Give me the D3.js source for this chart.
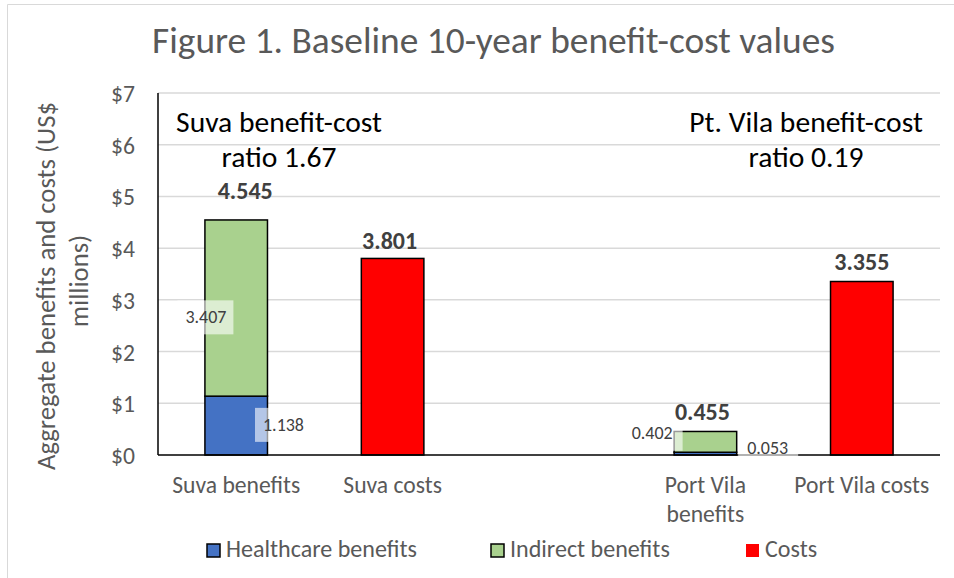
<!DOCTYPE html>
<html><head><meta charset="utf-8">
<script src="https://cdn.jsdelivr.net/npm/d3@7"></script>
<style>
body{margin:0;background:#fff;}
svg text{font-family:Carlito,Lato,"Open Sans",sans-serif;}
</style></head>
<body><svg id="c" width="954" height="578"></svg>
<script>
const categories = ["Suva benefits","Suva costs","","Port Vila benefits","Port Vila costs"];
const healthcare = [1.138, 0, 0, 0.053, 0];
const indirect   = [3.407, 0, 0, 0.402, 0];
const costs      = [0, 3.801, 0, 0, 3.355];
const totals     = [4.545, 3.801, null, 0.455, 3.355];
const yTicks = [0,1,2,3,4,5,6,7];
const seriesNames = ["Healthcare benefits","Indirect benefits","Costs"];
const colors = ["#4472C4","#A9D18E","#FF0000"];
const title = "Figure 1. Baseline 10-year benefit-cost values";
const yTitle = ["Aggregate benefits and costs (US$","millions)"];
const notes = [["Suva benefit-cost","ratio 1.67"],["Pt. Vila benefit-cost","ratio 0.19"]];

const svg = d3.select("#c");
const L=158, R=940, T=93, B=455;
const x = d3.scaleBand().domain(d3.range(categories.length)).range([L,R]).paddingInner(0.6).paddingOuter(0.3);
const y = d3.scaleLinear().domain([0,7]).range([B,T]);

// font size so that a sample string takes a given width
function sizeFor(str, target, weight){
  const t = svg.append("text").attr("font-size",20).attr("font-weight",weight||"normal").text(str);
  const w = t.node().getComputedTextLength(); t.remove();
  return 20*target/w;
}
const fsTitle = sizeFor(title, 683);
const fsNote  = sizeFor("Suva benefit-cost", 206);
const fsTick  = sizeFor("Suva benefits", 128);
const fsLeg   = sizeFor("Healthcare benefits", 191);
const fsYT    = sizeFor(yTitle[0], 368);
const fsTot   = sizeFor("4.545", 55, "bold");
const fsSeg   = sizeFor("3.407", 41);

// outer border
svg.append("path").attr("d","M7.5,580 V4.5 H960").attr("fill","none").attr("stroke","#d9d9d9").attr("stroke-width",1);

// title
svg.append("text").attr("x",493.5).attr("y",53).attr("text-anchor","middle")
  .attr("font-size",fsTitle).attr("fill","#595959").text(title);

// grid
svg.append("g").selectAll("line").data(yTicks.filter(d=>d>0)).join("line")
  .attr("x1",L).attr("x2",R).attr("y1",d=>y(d)).attr("y2",d=>y(d))
  .attr("stroke","#d9d9d9").attr("stroke-width",1.5);

// y axis labels
const ya = svg.append("g").attr("transform",`translate(${L},0)`)
  .call(d3.axisLeft(y).tickValues(yTicks).tickFormat(d=>"$"+d).tickSize(0).tickPadding(23));
ya.select(".domain").remove();
ya.selectAll("text").attr("font-size",fsTick).attr("fill","#595959").attr("font-family",null).attr("dy","0.36em");

// y title
yTitle.forEach((t,i)=>{
  svg.append("text").attr("transform",`translate(${55+i*33},${i==0?286:281}) rotate(-90)`)
    .attr("text-anchor","middle").attr("font-size",fsYT).attr("fill","#595959").text(t);
});

// bars
const bw = x.bandwidth();
const barG = svg.append("g");
categories.forEach((c,i)=>{
  const segs=[];
  if(healthcare[i]>0) segs.push([0,healthcare[i],0]);
  if(indirect[i]>0) segs.push([healthcare[i],healthcare[i]+indirect[i],1]);
  if(costs[i]>0) segs.push([0,costs[i],2]);
  segs.forEach(s=>{
    barG.append("rect").attr("x",x(i)).attr("width",bw)
      .attr("y",y(s[1])).attr("height",y(s[0])-y(s[1]))
      .attr("fill",colors[s[2]]).attr("stroke","#000").attr("stroke-width",1.5);
  });
});

// axes lines
svg.append("line").attr("x1",L).attr("x2",L).attr("y1",T).attr("y2",B).attr("stroke","#000").attr("stroke-width",1.5);
svg.append("line").attr("x1",L).attr("x2",R).attr("y1",B).attr("y2",B).attr("stroke","#000").attr("stroke-width",1.5);

// segment labels with translucent white boxes
function segLabel(val, cx, cy, padL, padR, padT, padB){
  const g = svg.append("g");
  const t = g.append("text").attr("x",cx).attr("y",cy).attr("text-anchor","middle")
    .attr("dy","0.35em").attr("font-size",fsSeg).attr("fill","#404040").text(val.toFixed(3));
  const bb = t.node().getBBox();
  g.insert("rect","text").attr("x",bb.x-padL).attr("y",bb.y-padT)
    .attr("width",bb.width+padL+padR).attr("height",bb.height+padT+padB)
    .attr("fill","#fff").attr("fill-opacity",0.6);
}
segLabel(indirect[0], x(0)+1, (y(healthcare[0])+y(healthcare[0]+indirect[0]))/2+9, 8,7,6,6);
segLabel(healthcare[0], x(0)+bw+16, (y(0)+y(healthcare[0]))/2-1, 8,8,6,6);
segLabel(indirect[3], x(3)-22, y(healthcare[3]+indirect[3])+1, 8,10,4,7);
segLabel(healthcare[3], x(3)+bw+31, y(healthcare[3])-5, 9,10,4,6);

// totals (label offsets follow the reference placement)
const totDx=[9,-3,0,-3,0], totDy=[-21,-9.5,0,-11.5,-11.5];
svg.append("g").selectAll("text").data(totals.map((v,i)=>[v,i]).filter(d=>d[0]!=null)).join("text")
  .attr("x",d=>x(d[1])+bw/2+totDx[d[1]]).attr("y",d=>y(d[0])+totDy[d[1]])
  .attr("text-anchor","middle").attr("font-size",fsTot).attr("font-weight","bold").attr("fill","#404040")
  .text(d=>d[0].toFixed(3));

// x labels
const xl = svg.append("g");
categories.forEach((c,i)=>{
  if(!c) return;
  const lines = c==="Port Vila benefits" ? ["Port Vila","benefits"] : [c];
  lines.forEach((ln,j)=>{
    xl.append("text").attr("x",x(i)+bw/2).attr("y",493+j*29).attr("text-anchor","middle")
      .attr("font-size",fsTick).attr("fill","#595959").text(ln);
  });
});

// notes
[[279,notes[0]],[806,notes[1]]].forEach(([cx,ls])=>{
  ls.forEach((t,j)=>{
    svg.append("text").attr("x",cx).attr("y",132+j*35).attr("text-anchor","middle")
      .attr("font-size",fsNote).attr("fill","#000").text(t);
  });
});

// legend
const legX=[207,491,746];
seriesNames.forEach((n,i)=>{
  svg.append("rect").attr("x",legX[i]).attr("y",544).attr("width",13).attr("height",13)
    .attr("fill",colors[i]).attr("stroke",i<2?"#000":"none").attr("stroke-width",1.5);
  svg.append("text").attr("x",legX[i]+19).attr("y",557)
    .attr("font-size",fsLeg).attr("fill","#595959").text(n);
});
</script></body></html>
